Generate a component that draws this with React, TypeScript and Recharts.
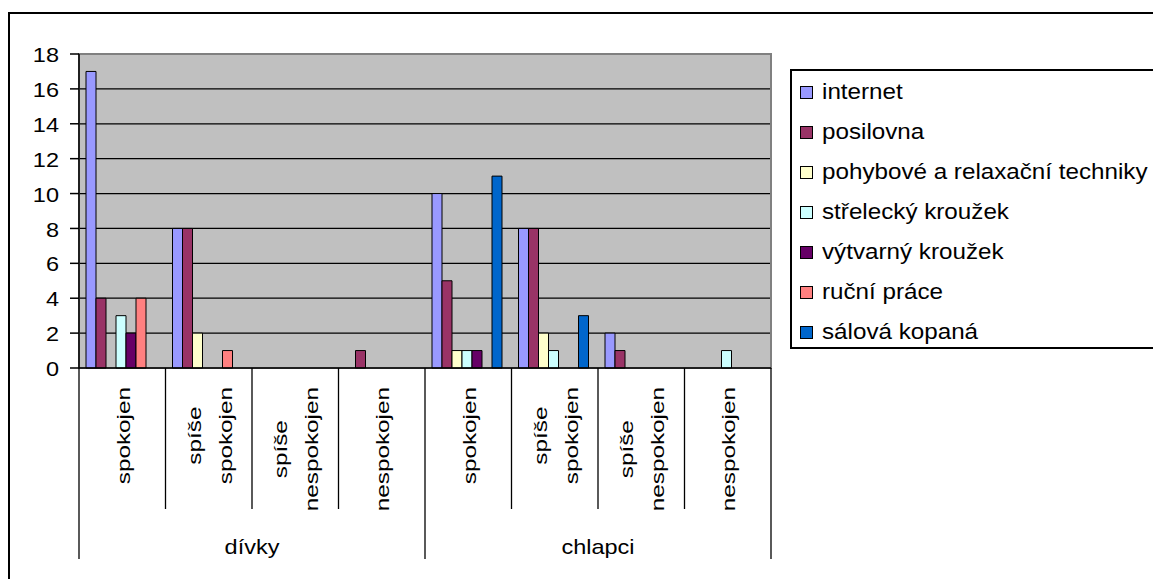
import { BarChart, Bar, XAxis, YAxis, CartesianGrid, ReferenceArea } from 'recharts'

// categories
const groups = ['dívky', 'chlapci']
const answers = ['spokojen', 'spíše spokojen', 'spíše nespokojen', 'nespokojen']
const yTicks = [0, 2, 4, 6, 8, 10, 12, 14, 16, 18]

// series values, one per category (dívky x4, chlapci x4)
const internet = [17, 8, 0, 0, 10, 8, 2, 0]
const posilovna = [4, 8, 0, 1, 5, 8, 1, 0]
const pohybove = [0, 2, 0, 0, 1, 2, 0, 0]
const strelecky = [3, 0, 0, 0, 1, 1, 0, 1]
const vytvarny = [2, 0, 0, 0, 1, 0, 0, 0]
const rucni = [4, 1, 0, 0, 0, 0, 0, 0]
const salova = [0, 0, 0, 0, 11, 3, 0, 0]

const series = [
  { key: 'internet', name: 'internet', color: '#9999FF', values: internet },
  { key: 'posilovna', name: 'posilovna', color: '#993366', values: posilovna },
  { key: 'pohybove', name: 'pohybové a relaxační techniky', color: '#FFFFCC', values: pohybove },
  { key: 'strelecky', name: 'střelecký kroužek', color: '#CCFFFF', values: strelecky },
  { key: 'vytvarny', name: 'výtvarný kroužek', color: '#660066', values: vytvarny },
  { key: 'rucni', name: 'ruční práce', color: '#FF8080', values: rucni },
  { key: 'salova', name: 'sálová kopaná', color: '#0066CC', values: salova },
]

const categories = groups.flatMap((g) => answers.map((a) => ({ group: g, label: a })))

const rows = categories.map((c, i) => {
  const row: Record<string, string | number> = { key: `${c.group}|${c.label}` }
  series.forEach((s) => (row[s.key] = s.values[i]))
  return row
})

// layout
const W = 1153
const H = 579
const PLOT_LEFT = 79
const PLOT_RIGHT = 771
const PLOT_TOP = 54
const PLOT_BOTTOM = 368
const X_AXIS_H = 191
const BAND = (PLOT_RIGHT - PLOT_LEFT) / categories.length
const FONT = '"Liberation Sans", Arial, sans-serif'
const STRETCH = 1.12

let measureCtx: CanvasRenderingContext2D | null = null
function textWidth(s: string, size: number) {
  if (!measureCtx) measureCtx = document.createElement('canvas').getContext('2d')
  if (!measureCtx) return s.length * size * 0.55
  measureCtx.font = `${size}px ${FONT}`
  return measureCtx.measureText(s).width
}

const ROT_SIZE = 18
const ROT_STRETCH = 1.35
const LINE_GAP = 31

const CategoryTick = (props: any) => {
  const { x, y, index } = props
  const cat = categories[index]
  if (!cat) return null
  const left = x - BAND / 2
  const long = index % answers.length === 0
  const lines = cat.label.split(' ')
  const maxLen = Math.max(...lines.map((l) => textWidth(l, ROT_SIZE))) * ROT_STRETCH
  const cy = y + 19 + maxLen / 2
  const isLast = index === categories.length - 1
  return (
    <g>
      <line x1={left} x2={left} y1={y} y2={y + (long ? X_AXIS_H : 141)} stroke="#000" strokeWidth={1.3} />
      {isLast && <line x1={x + BAND / 2} x2={x + BAND / 2} y1={y} y2={y + X_AXIS_H} stroke="#000" strokeWidth={1.3} />}
      {lines.map((l, j) => (
        <text
          key={j}
          transform={`translate(${x + 1.5 + (j - (lines.length - 1) / 2) * LINE_GAP},${cy}) rotate(-90) scale(${ROT_STRETCH},1)`}
          textAnchor="middle"
          dominantBaseline="central"
          fontFamily={FONT}
          fontSize={ROT_SIZE}
          fill="#000"
        >
          {l}
        </text>
      ))}
      {index % answers.length === 1 && (
        <text
          transform={`translate(${x + BAND / 2},${y + 179}) scale(${STRETCH},1)`}
          textAnchor="middle"
          dominantBaseline="central"
          fontFamily={FONT}
          fontSize={21}
          fill="#000"
        >
          {cat.group}
        </text>
      )}
    </g>
  )
}

const ValueTick = (props: any) => {
  const { x, y, payload } = props
  return (
    <text
      transform={`translate(${x},${y + 1}) scale(${STRETCH},1)`}
      textAnchor="end"
      dominantBaseline="central"
      fontFamily={FONT}
      fontSize={21}
      fill="#000"
    >
      {payload.value}
    </text>
  )
}

const LegendBox = () => (
  <div
    style={{
      position: 'absolute',
      left: 790,
      top: 69,
      boxSizing: 'border-box',
      width: 400,
      height: 280,
      border: '2px solid #000',
      background: '#fff',
      paddingTop: 1,
      fontFamily: FONT,
      fontSize: 22,
      color: '#000',
    }}
  >
    {series.map((s) => (
      <div key={s.key} style={{ height: 40, display: 'flex', alignItems: 'center' }}>
        <span
          style={{
            boxSizing: 'border-box',
            width: 13,
            height: 13,
            marginLeft: 8,
            marginRight: 9,
            border: '1.5px solid #000',
            background: s.color,
            flex: 'none',
          }}
        />
        <span style={{ display: 'inline-block', transform: 'scaleX(1.1)', transformOrigin: 'left center', whiteSpace: 'nowrap' }}>
          {s.name}
        </span>
      </div>
    ))}
  </div>
)

export default function App() {
  return (
    <div style={{ position: 'absolute', left: 0, top: 0, width: W, height: H, overflow: 'hidden', background: '#fff' }}>
      <div
        style={{
          position: 'absolute',
          left: 8,
          top: 12,
          width: 1300,
          height: 700,
          border: '2px solid #000',
          boxSizing: 'border-box',
        }}
      />
      <div style={{ position: 'absolute', left: 0, top: 0 }}>
        <BarChart
          width={W}
          height={H}
          data={rows}
          margin={{ top: PLOT_TOP, right: W - PLOT_RIGHT, bottom: H - PLOT_BOTTOM - X_AXIS_H, left: 0 }}
          barCategoryGap={7}
          barGap={0}
        >
          <CartesianGrid vertical={false} stroke="#000" strokeWidth={1.2} fill="#C0C0C0" fillOpacity={1} />
          <ReferenceArea y1={0} y2={18} fill="none" stroke="#808080" strokeWidth={2} />
          {series.map((s) => (
            <Bar
              key={s.key}
              dataKey={s.key}
              name={s.name}
              fill={s.color}
              stroke="#000"
              strokeWidth={1}
              isAnimationActive={false}
            />
          ))}
          <XAxis
            dataKey="key"
            interval={0}
            height={X_AXIS_H}
            tickLine={false}
            tickSize={0}
            tickMargin={0}
            axisLine={{ stroke: '#000', strokeWidth: 1.5 }}
            tick={(p: any) => <CategoryTick {...p} />}
          />
          <YAxis
            domain={[0, 18]}
            ticks={yTicks}
            interval={0}
            width={PLOT_LEFT}
            tickSize={9}
            tickMargin={11}
            tickLine={{ stroke: '#000', strokeWidth: 1.5 }}
            axisLine={{ stroke: '#000', strokeWidth: 1.5 }}
            tick={(p: any) => <ValueTick {...p} />}
          />
        </BarChart>
      </div>
      <LegendBox />
    </div>
  )
}
